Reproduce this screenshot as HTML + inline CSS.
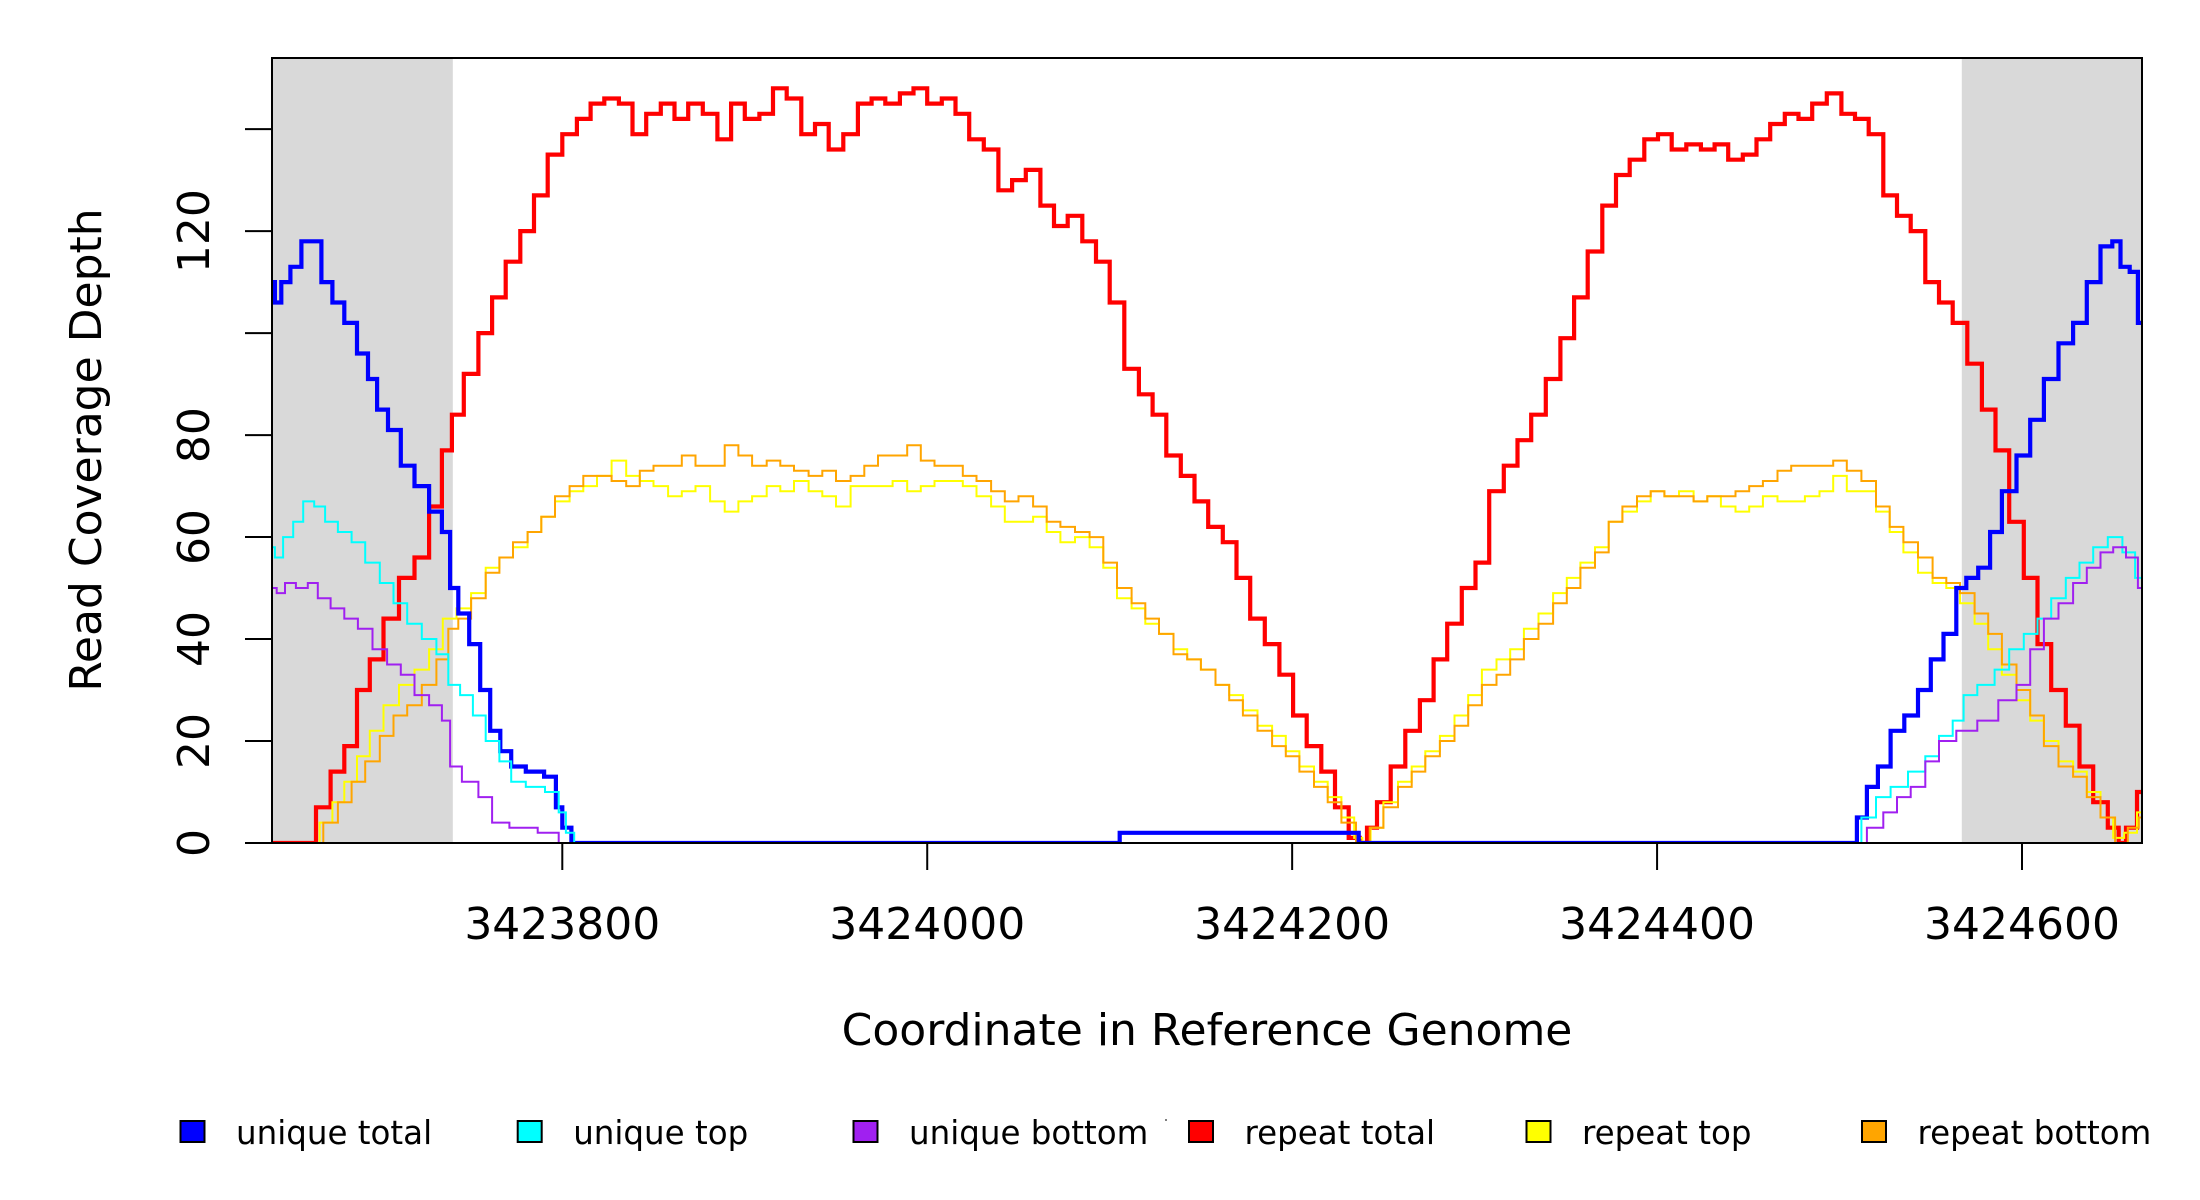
<!DOCTYPE html>
<html><head><meta charset="utf-8"><style>
html,body{margin:0;padding:0;background:#fff;}
svg{display:block;font-family:"DejaVu Sans","Liberation Sans",sans-serif;}
</style></head><body>
<svg id="chart" width="2200" height="1200" viewBox="0 0 2200 1200" xmlns="http://www.w3.org/2000/svg">
<g id="bg"></g>
<g id="series"></g>
<g id="axes"></g>
<text x="0" y="0" transform="translate(101,450) rotate(-90)" text-anchor="middle" font-size="44" fill="#000">Read Coverage Depth</text>
<text x="1207" y="1045" text-anchor="middle" font-size="44" fill="#000">Coordinate in Reference Genome</text>
<g id="legend"></g>
<circle cx="1166" cy="1120" r="1" fill="#555"/>
</svg>
<script>
// ---- data ----
const xTicks = [3423800, 3424000, 3424200, 3424400, 3424600];
const xTickLabels = ["3423800", "3424000", "3424200", "3424400", "3424600"];
const yTicks = [0, 20, 40, 60, 80, 100, 120, 140];
const yTickLabels = ["0", "20", "40", "60", "80", "", "120", ""];
const shadedRegions = [[3423640, 3423740], [3424567, 3424666]];

const repeatTotalX = [3423641,3423661,3423669,3423677,3423684,3423691,3423698,3423706,3423715,3423723,3423731,3423737,3423742,3423750,3423758,3423765,3423773,3423781,3423788,3423796,3423804,3423812,3423819,3423827,3423835,3423842,3423850,3423858,3423865,3423873,3423881,3423889,3423896,3423904,3423912,3423919,3423927,3423935,3423942,3423950,3423958,3423966,3423973,3423981,3423989,3423996,3424004,3424012,3424019,3424027,3424035,3424043,3424050,3424058,3424066,3424073,3424081,3424089,3424096,3424104,3424112,3424120,3424127,3424135,3424143,3424150,3424158,3424166,3424173,3424181,3424189,3424197,3424204,3424212,3424220,3424227,3424235,3424239,3424243,3424250,3424258,3424266,3424274,3424281,3424289,3424297,3424304,3424312,3424320,3424327,3424335,3424343,3424351,3424358,3424366,3424374,3424381,3424389,3424397,3424404,3424412,3424420,3424428,3424435,3424443,3424451,3424458,3424466,3424474,3424481,3424489,3424497,3424505,3424512,3424520,3424528,3424535,3424543,3424551,3424558,3424566,3424574,3424582,3424589,3424597,3424605,3424612,3424620,3424628,3424635,3424643,3424651,3424655,3424659,3424667];
const repeatTotalY = [0,0,7,14,19,30,36,44,52,56,66,77,84,92,100,107,114,120,127,135,139,142,145,146,145,139,143,145,142,145,143,138,145,142,143,148,146,139,141,136,139,145,146,145,147,148,145,146,143,138,136,128,130,132,125,121,123,118,114,106,93,88,84,76,72,67,62,59,52,44,39,33,25,19,14,7,1,0,3,8,15,22,28,36,43,50,55,69,74,79,84,91,99,107,116,125,131,134,138,139,136,137,136,137,134,135,138,141,143,142,145,147,143,142,139,127,123,120,110,106,102,94,85,77,63,52,39,30,23,15,8,3,0,3,10];

const repeatTopX = [3423641,3423663,3423671,3423677,3423684,3423691,3423698,3423706,3423715,3423723,3423731,3423738,3423746,3423754,3423762,3423769,3423777,3423785,3423792,3423800,3423808,3423815,3423823,3423831,3423839,3423846,3423854,3423862,3423869,3423877,3423885,3423893,3423900,3423908,3423916,3423923,3423931,3423939,3423946,3423954,3423962,3423969,3423977,3423985,3423993,3424000,3424008,3424016,3424023,3424031,3424039,3424046,3424054,3424062,3424069,3424077,3424085,3424093,3424100,3424108,3424116,3424123,3424131,3424139,3424146,3424154,3424162,3424169,3424177,3424185,3424193,3424200,3424208,3424216,3424223,3424231,3424237,3424240,3424246,3424254,3424262,3424269,3424277,3424285,3424293,3424300,3424308,3424316,3424323,3424331,3424339,3424347,3424354,3424362,3424370,3424377,3424385,3424393,3424400,3424408,3424416,3424424,3424431,3424439,3424447,3424454,3424462,3424470,3424477,3424485,3424493,3424500,3424508,3424516,3424524,3424531,3424539,3424547,3424555,3424562,3424570,3424578,3424585,3424593,3424601,3424608,3424616,3424624,3424632,3424639,3424647,3424653,3424659,3424667];
const repeatTopY = [0,0,4,8,12,17,22,27,31,34,38,44,46,49,54,56,58,61,64,67,69,70,72,75,72,71,70,68,69,70,67,65,67,68,70,69,71,69,68,66,70,70,70,71,69,70,71,71,70,68,66,63,63,64,61,59,60,58,54,48,46,43,41,38,36,34,31,29,26,23,21,18,15,12,9,5,1,0,3,8,12,15,18,21,25,29,34,36,38,42,45,49,52,55,58,63,65,67,69,68,69,67,68,66,65,66,68,67,67,68,69,72,69,69,65,61,57,53,51,50,47,43,38,33,28,24,20,16,14,10,5,1,2,6];

const repeatBottomX = [3423641,3423665,3423673,3423681,3423688,3423696,3423704,3423711,3423719,3423727,3423735,3423740,3423746,3423754,3423762,3423769,3423777,3423785,3423792,3423800,3423808,3423815,3423823,3423831,3423839,3423846,3423854,3423862,3423869,3423877,3423885,3423893,3423900,3423908,3423916,3423923,3423931,3423939,3423946,3423954,3423962,3423969,3423977,3423985,3423993,3424000,3424008,3424016,3424023,3424031,3424039,3424046,3424054,3424062,3424069,3424077,3424085,3424093,3424100,3424108,3424116,3424123,3424131,3424139,3424146,3424154,3424162,3424169,3424177,3424185,3424193,3424200,3424208,3424216,3424223,3424231,3424239,3424246,3424254,3424262,3424269,3424277,3424285,3424293,3424300,3424308,3424316,3424323,3424331,3424339,3424347,3424354,3424362,3424370,3424377,3424385,3424393,3424400,3424408,3424416,3424424,3424431,3424439,3424447,3424454,3424462,3424470,3424477,3424485,3424493,3424500,3424508,3424516,3424524,3424531,3424539,3424547,3424555,3424562,3424570,3424578,3424585,3424593,3424601,3424608,3424616,3424624,3424632,3424639,3424647,3424655,3424661,3424667];
const repeatBottomY = [0,0,4,8,12,16,21,25,27,31,36,42,44,48,53,56,59,61,64,68,70,72,72,71,70,73,74,74,76,74,74,78,76,74,75,74,73,72,73,71,72,74,76,76,78,75,74,74,72,71,69,67,68,66,63,62,61,60,55,50,47,44,41,37,36,34,31,28,25,22,19,17,14,11,8,4,0,3,7,11,14,17,20,23,27,31,33,36,40,43,47,50,54,57,63,66,68,69,68,68,67,68,68,69,70,71,73,74,74,74,75,73,71,66,62,59,56,52,51,49,45,41,35,30,25,19,15,13,9,5,0,3,5];

const uniqueTotalX = [3423641,3423644,3423648,3423654,3423660,3423665,3423671,3423677,3423684,3423691,3423696,3423701,3423708,3423715,3423723,3423731,3423737,3423740,3423746,3423752,3423758,3423763,3423769,3423775,3423785,3423795,3423798,3423802,3423808,3424105,3424106,3424236,3424237,3424507,3424512,3424518,3424524,3424532,3424539,3424547,3424553,3424561,3424567,3424572,3424580,3424585,3424593,3424601,3424608,3424616,3424624,3424632,3424639,3424647,3424652,3424656,3424662,3424665,3424667];
const uniqueTotalY = [110,106,110,113,118,118,110,106,102,96,91,85,81,74,70,65,61,50,45,39,30,22,18,15,14,13,7,3,0,0,2,2,0,0,5,11,15,22,25,30,36,41,50,52,54,61,69,76,83,91,98,102,110,117,118,113,112,102,102];

const uniqueTopX = [3423641,3423644,3423650,3423655,3423661,3423667,3423673,3423681,3423688,3423696,3423704,3423711,3423719,3423727,3423735,3423740,3423748,3423754,3423762,3423769,3423775,3423785,3423796,3423800,3423804,3423809,3424508,3424516,3424524,3424532,3424543,3424551,3424558,3424566,3424570,3424581,3424589,3424597,3424605,3424612,3424620,3424628,3424635,3424643,3424651,3424659,3424665,3424667];
const uniqueTopY = [58,56,60,63,67,66,63,61,59,55,51,47,43,40,37,31,29,25,20,16,12,11,10,6,2,0,0,5,9,11,14,17,21,24,29,31,34,38,41,44,48,52,55,58,60,57,52,52];

const uniqueBottomX = [3423641,3423646,3423650,3423658,3423663,3423669,3423677,3423684,3423692,3423700,3423708,3423715,3423723,3423731,3423737,3423740,3423750,3423758,3423765,3423777,3423796,3423800,3424510,3424520,3424528,3424535,3424543,3424551,3424558,3424570,3424581,3424593,3424601,3424608,3424616,3424624,3424632,3424639,3424647,3424653,3424661,3424666,3424667];
const uniqueBottomY = [50,49,51,50,51,48,46,44,42,38,35,33,29,27,24,15,12,9,4,3,2,0,0,3,6,9,11,16,20,22,24,28,31,38,44,47,51,54,57,58,56,50,50];

const legendNames = ["unique total","unique top","unique bottom","repeat total","repeat top","repeat bottom"];

// ---- layout ----
const PL=272, PR=2142, PT=58, PB=843;
const X0=3423800, X1=3424600, PX0=562.3, PX1=2022;
const YPX=5.099;
function sx(v){return PX0+(v-X0)*(PX1-PX0)/(X1-X0);}
function sy(v){return PB-v*YPX;}
const NS="http://www.w3.org/2000/svg";
function mk(tag, attrs, parent){const e=document.createElementNS(NS,tag);for(const k in attrs)e.setAttribute(k,attrs[k]);parent.appendChild(e);return e;}

const bg=document.getElementById('bg');
const clip=mk('clipPath',{id:'pclip'},document.getElementById('chart'));
mk('rect',{x:PL,y:PT,width:PR-PL,height:PB-PT},clip);
shadedRegions.forEach(function(r,i){
  const x0=Math.max(PL,sx(r[0])), x1=Math.min(PR,sx(r[1]));
  const rc=mk('rect',{x:x0,y:PT,width:x1-x0,height:PB-PT,fill:'#d9d9d9'},bg);
  
  
});

const ser=document.getElementById('series');
ser.setAttribute('clip-path','url(#pclip)');
function drawStep(xs,ys,color,w,name){
  let d='M'+sx(xs[0]).toFixed(1)+' '+sy(ys[0]).toFixed(1);
  for(let i=1;i<xs.length;i++){
    const mid=(sx(xs[i-1])+sx(xs[i]))/2;
    d+=' H'+mid.toFixed(1)+' V'+sy(ys[i]).toFixed(1);
  }
  d+=' H'+sx(xs[xs.length-1]).toFixed(1);
  const p=mk('path',{d:d,fill:'none',stroke:color,'stroke-width':w,'stroke-linejoin':'miter'},ser);
  
  
}
drawStep(repeatTotalX,repeatTotalY,'#ff0000',4.2,'line-repeat-total');
drawStep(repeatTopX,repeatTopY,'#ffff00',2,'line-repeat-top');
drawStep(repeatBottomX,repeatBottomY,'#ffa500',2,'line-repeat-bottom');
drawStep(uniqueTotalX,uniqueTotalY,'#0000ff',4.2,'line-unique-total');
drawStep(uniqueTopX,uniqueTopY,'#00ffff',2,'line-unique-top');
drawStep(uniqueBottomX,uniqueBottomY,'#a020f0',2,'line-unique-bottom');

const ax=document.getElementById('axes');
const box=mk('rect',{x:PL,y:PT,width:PR-PL,height:PB-PT,fill:'none',stroke:'#000','stroke-width':2},ax);


xTicks.forEach(function(t,i){
  const x=sx(t);
  const l=mk('line',{x1:x,y1:PB,x2:x,y2:PB+27,stroke:'#000','stroke-width':2},ax);
  
  
  const tx=mk('text',{x:x,y:939,'text-anchor':'middle','font-size':44,fill:'#000'},ax);
  tx.textContent=xTickLabels[i];
  
  
});
yTicks.forEach(function(t,i){
  const y=sy(t);
  const l=mk('line',{x1:PL-27,y1:y,x2:PL,y2:y,stroke:'#000','stroke-width':2},ax);
  
  
  if(yTickLabels[i]){
    const tx=mk('text',{x:0,y:0,transform:'translate(209,'+y+') rotate(-90)','text-anchor':'middle','font-size':44,fill:'#000'},ax);
    tx.textContent=yTickLabels[i];
    
    
  }
});

const lg=document.getElementById('legend');
const legColors=['#0000ff','#00ffff','#a020f0','#ff0000','#ffff00','#ffa500'];
const legBoxX=[192.5,529.7,865.5,1201,1538.5,1874];
legendNames.forEach(function(n,i){
  const r=mk('rect',{x:legBoxX[i]-12,y:1121,width:24,height:21,fill:legColors[i],stroke:'#000','stroke-width':2},lg);
  
  
  const t=mk('text',{x:legBoxX[i]+43.5,y:1144,'font-size':32.5,fill:'#000'},lg);
  t.textContent=n;
  
  
});
</script>
</body></html>
